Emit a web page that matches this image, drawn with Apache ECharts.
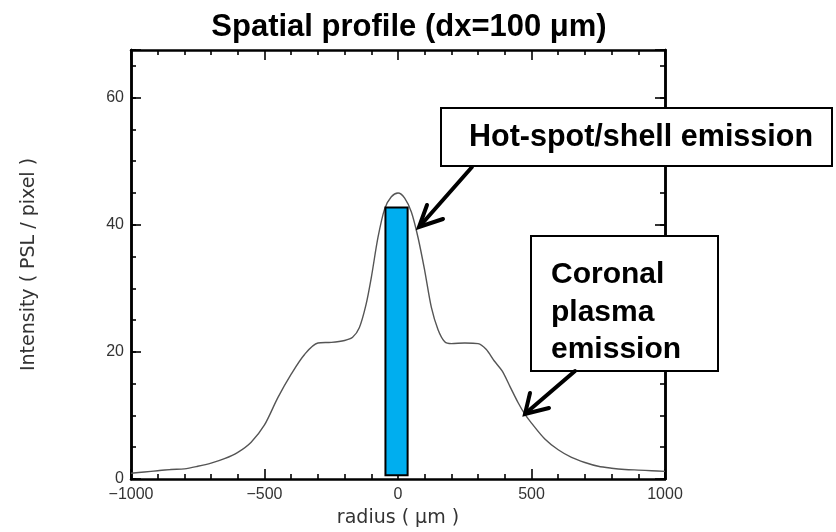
<!DOCTYPE html>
<html>
<head>
<meta charset="utf-8">
<script src="https://cdn.jsdelivr.net/npm/echarts@6/dist/echarts.min.js"></script>
<style>html,body{margin:0;padding:0;background:#fff}#c{width:836px;height:532px}</style>
</head>
<body>
<div id="c"></div>
<script>
// ---- data ----
const radius = [-1000,-950,-900,-850,-800,-750,-700,-650,-600,-550,-500,-450,-400,-350,-300,-250,-200,-170,-145,-120,-100,-75,-50,-25,0,25,50,75,100,125,150,175,200,250,300,330,360,390,420,450,475,500,550,600,650,700,750,800,850,900,950,1000];
const intensity = [0.9,1.1,1.3,1.5,1.6,2.0,2.5,3.2,4.2,5.8,8.5,12.8,16.5,19.6,21.4,21.5,21.8,22.3,23.8,27.4,31.7,38.0,42.5,44.4,45.0,44.2,42.0,38.0,32.8,27.0,23.5,21.6,21.3,21.4,21.3,20.4,18.6,17.0,14.5,12.0,10.2,8.8,6.3,4.6,3.4,2.6,2.0,1.7,1.5,1.4,1.3,1.2];
const binEdges = [-47, 36];      // highlighted bin (radius)
const binLevels = [0.6, 42.7];   // bottom / top of highlighted bin
const xTickLabels = [-1000, -500, 0, 500, 1000];
const yTickLabels = [0, 20, 40, 60];
const titleText = 'Spatial profile (dx=100 \u03bcm)';
const xName = 'radius ( \u03bcm )';
const yName = 'Intensity ( PSL / pixel )';
const hotText = 'Hot-spot/shell emission';
const coronaText = ['Coronal', 'plasma', 'emission'];

const X_MIN = xTickLabels[0], X_MAX = xTickLabels[xTickLabels.length - 1];
const Y_MIN = 0, Y_MAX = 67.5;

const chart = echarts.init(document.getElementById('c'), null, {renderer: 'canvas'});

const lineCol = '#000';
function yAx(pos, interval, len, labels) {
  return {
    type: 'value', position: pos, min: Y_MIN, max: Y_MAX, interval: interval,
    axisLine: {show: true, onZero: false, lineStyle: {color: lineCol, width: 2.5}},
    axisTick: {show: true, inside: true, length: len, lineStyle: {color: lineCol, width: 1.6}},
    axisLabel: {show: labels, margin: 7, color: '#333', fontSize: 16, fontFamily: 'Liberation Sans',
      formatter: v => (yTickLabels.indexOf(v) >= 0 ? String(v) : '')},
    splitLine: {show: false},
    name: labels ? yName : '', nameLocation: 'middle', nameGap: 92,
    nameTextStyle: {color: '#333', fontSize: 19, fontFamily: 'DejaVu Sans'}
  };
}
function xAx(pos, labels) {
  return {
    type: 'value', position: pos, min: X_MIN, max: X_MAX, interval: 500,
    axisLine: {show: true, onZero: false, lineStyle: {color: lineCol, width: 2.5}},
    axisTick: {show: true, inside: true, length: 10, lineStyle: {color: lineCol, width: 1.6}},
    minorTick: {show: true, splitNumber: 5, length: 5, lineStyle: {color: lineCol, width: 1.6}},
    axisLabel: {show: labels, margin: 8, color: '#333', fontSize: 16, fontFamily: 'Liberation Sans',
      formatter: v => String(v).replace('-', '\u2212')},
    splitLine: {show: false},
    name: labels ? xName : '', nameLocation: 'middle', nameGap: 30,
    nameTextStyle: {color: '#333', fontSize: 19, fontFamily: 'DejaVu Sans'}
  };
}

const boxStyle = {fill: '#fff', stroke: '#000', lineWidth: 2};
const arrowStyle = {stroke: '#000', lineWidth: 4, fill: null, lineCap: 'round', lineJoin: 'miter'};

chart.setOption({
  animation: false,
  backgroundColor: '#fff',
  grid: {left: 131, right: 171, top: 50, bottom: 53, containLabel: false, outerBoundsMode: 'none'},
  xAxis: [xAx('bottom', true), xAx('top', false)],
  yAxis: [yAx('left', 20, 10, true), yAx('left', 5, 5, false), yAx('right', 20, 10, false), yAx('right', 5, 5, false)],
  series: [
    {
      type: 'line', xAxisIndex: 0, yAxisIndex: 0, smooth: 0.3, showSymbol: false, symbol: 'none',
      lineStyle: {color: '#555', width: 1.4}, z: 2,
      data: radius.map((r, i) => [r, intensity[i]])
    },
    {
      type: 'custom', xAxisIndex: 0, yAxisIndex: 0, z: 3,
      data: [[binEdges[0], binEdges[1], binLevels[0], binLevels[1]]],
      encode: {x: [0, 1], y: [2, 3]},
      renderItem: function (params, api) {
        const p0 = api.coord([api.value(0), api.value(3)]);
        const p1 = api.coord([api.value(1), api.value(2)]);
        return {type: 'rect', shape: {x: p0[0], y: p0[1], width: p1[0] - p0[0], height: p1[1] - p0[1]},
          style: {fill: '#00AEEF', stroke: '#000', lineWidth: 2}};
      }
    }
  ],
  graphic: [
    {type: 'text', x: 409, y: 27, z: 100, style: {text: titleText, fontSize: 31, fontWeight: 'bold',
      fontFamily: 'Liberation Sans', fill: '#000', align: 'center', verticalAlign: 'middle'}},
    {type: 'rect', z: 100, shape: {x: 441, y: 108, width: 391, height: 58}, style: boxStyle},
    {type: 'text', z: 101, x: 641, y: 138, style: {text: hotText, fontSize: 30.5, fontWeight: 'bold',
      fontFamily: 'Liberation Sans', fill: '#000', align: 'center', verticalAlign: 'middle'}},
    {type: 'rect', z: 100, shape: {x: 531, y: 236, width: 187, height: 135}, style: boxStyle},
    {type: 'text', z: 101, x: 551, y: 256, style: {text: coronaText.join('\n'), fontSize: 30, fontWeight: 'bold',
      lineHeight: 37.5, fontFamily: 'Liberation Sans', fill: '#000', align: 'left', verticalAlign: 'top'}},
    {type: 'line', z: 100, shape: {x1: 472, y1: 167, x2: 420, y2: 226}, style: arrowStyle},
    {type: 'polyline', z: 100, shape: {points: [[427, 205], [419, 227], [443, 219]]}, style: arrowStyle},
    {type: 'line', z: 100, shape: {x1: 575, y1: 371, x2: 526, y2: 413}, style: arrowStyle},
    {type: 'polyline', z: 100, shape: {points: [[530, 393], [525, 414], [549, 408]]}, style: arrowStyle}
  ]
});
</script>
</body>
</html>
